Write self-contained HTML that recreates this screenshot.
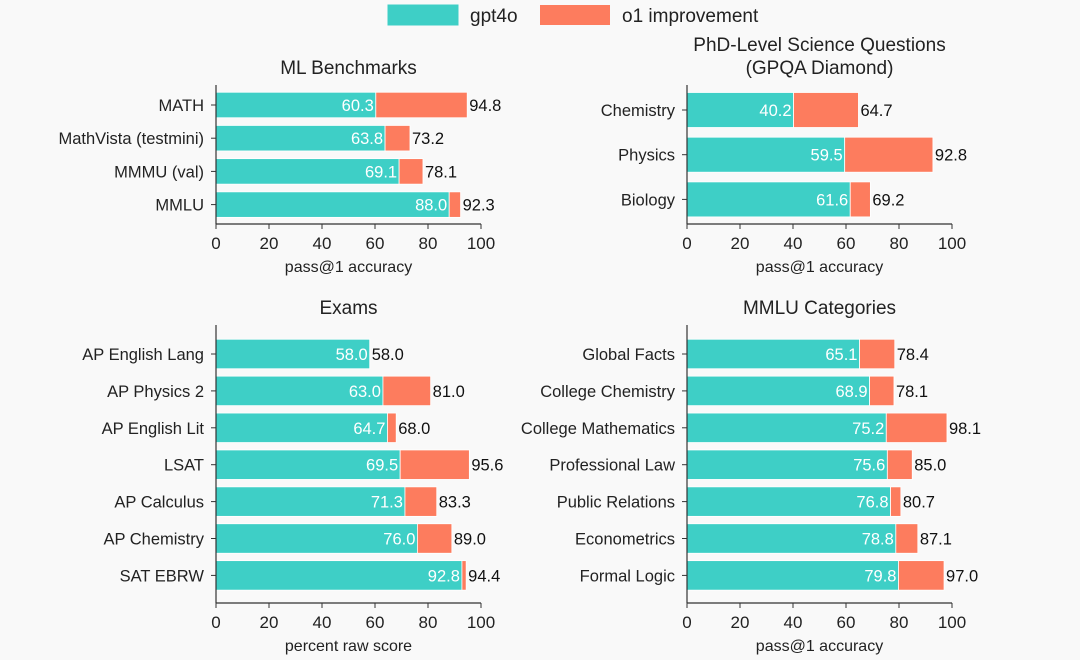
<!DOCTYPE html>
<html><head><meta charset="utf-8"><style>
html,body{margin:0;padding:0;background:#f9f9f9;}
svg{display:block;font-family:"Liberation Sans",sans-serif;}
</style></head><body>
<svg id="c" width="1080" height="660" viewBox="0 0 1080 660" xmlns="http://www.w3.org/2000/svg">
<rect width="1080" height="660" fill="#f9f9f9"/>
<g>
<rect x="388" y="5" width="70" height="20" fill="#3ecfc6" stroke="#3ecfc6"/>
<text x="470" y="22" font-size="19" fill="#222">gpt4o</text>
<rect x="540" y="5" width="70" height="20" fill="#fd7c5e"/>
<text x="622" y="22" font-size="19" fill="#222">o1 improvement</text>
</g>
</svg>
<script>
const mlCats=["MATH","MathVista (testmini)","MMMU (val)","MMLU"];
const mlBase=[60.3,63.8,69.1,88.0];
const mlO1=[94.8,73.2,78.1,92.3];
const gpCats=["Chemistry","Physics","Biology"];
const gpBase=[40.2,59.5,61.6];
const gpO1=[64.7,92.8,69.2];
const exCats=["AP English Lang","AP Physics 2","AP English Lit","LSAT","AP Calculus","AP Chemistry","SAT EBRW"];
const exBase=[58.0,63.0,64.7,69.5,71.3,76.0,92.8];
const exO1=[58.0,81.0,68.0,95.6,83.3,89.0,94.4];
const mmCats=["Global Facts","College Chemistry","College Mathematics","Professional Law","Public Relations","Econometrics","Formal Logic"];
const mmBase=[65.1,68.9,75.2,75.6,76.8,78.8,79.8];
const mmO1=[78.4,78.1,98.1,85.0,80.7,87.1,97.0];
const ticks=[0,20,40,60,80,100];

const svg=document.getElementById('c');
const NS='http://www.w3.org/2000/svg';
function mk(tag,attrs,parent){const e=document.createElementNS(NS,tag);for(const k in attrs)e.setAttribute(k,attrs[k]);(parent||svg).appendChild(e);return e;}

function panel(name,titles,titleY,cats,base,o1,x0,x1,yTop,yBot,firstC,step,bh,xlabel){
  const g=mk('g',{});
  
  
  const xs=v=>x0+(x1-x0)*v/100;
  titles.forEach((t,i)=>{const tt=mk('text',{x:(x0+x1)/2,y:titleY+i*23,'font-size':19,'text-anchor':'middle',fill:'#222'},g);tt.textContent=t;
    
    });
  cats.forEach((c,i)=>{
    const cy=firstC+i*step;
    const b=mk('rect',{x:xs(0),y:cy-bh/2,width:xs(base[i])-xs(0),height:bh,fill:'#3ecfc6',stroke:'#fff','stroke-width':0.8},g);
    
    
    const r=mk('rect',{x:xs(base[i]),y:cy-bh/2,width:Math.max(0,xs(o1[i])-xs(base[i])),height:bh,fill:'#fd7c5e',stroke:'#fff','stroke-width':0.8},g);
    
    
    const bl=mk('text',{x:xs(base[i])-2,y:cy+6,'font-size':16.5,'text-anchor':'end',fill:'#fff'},g);bl.textContent=base[i].toFixed(1);
    
    
    const ol=mk('text',{x:xs(Math.max(o1[i],base[i]))+2,y:cy+6,'font-size':16.5,fill:'#111'},g);ol.textContent=o1[i].toFixed(1);
    
    
    mk('line',{x1:x0-5,x2:x0,y1:cy,y2:cy,stroke:'#333','stroke-width':1},g);
    const cl=mk('text',{x:x0-12,y:cy+6,'font-size':16.5,'text-anchor':'end',fill:'#222'},g);cl.textContent=c;
    
    
  });
  mk('line',{x1:x0,x2:x0,y1:yTop,y2:yBot,stroke:'#333','stroke-width':1.2},g);
  mk('line',{x1:x0,x2:x1,y1:yBot,y2:yBot,stroke:'#333','stroke-width':1.2},g);
  ticks.forEach(t=>{
    mk('line',{x1:xs(t),x2:xs(t),y1:yBot,y2:yBot+5,stroke:'#333','stroke-width':1},g);
    const tl=mk('text',{x:xs(t),y:yBot+25,'font-size':17,'text-anchor':'middle',fill:'#222'},g);tl.textContent=t;
    
    
  });
  const xl=mk('text',{x:(x0+x1)/2,y:yBot+48,'font-size':16,'text-anchor':'middle',fill:'#222'},g);xl.textContent=xlabel;
  
  
}
panel('ml-benchmarks',['ML Benchmarks'],74,mlCats,mlBase,mlO1,216,481,85,224,105,33.2,25.5,'pass@1 accuracy');
panel('gpqa',['PhD-Level Science Questions','(GPQA Diamond)'],51,gpCats,gpBase,gpO1,687,952,85,224,110,44.7,35,'pass@1 accuracy');
panel('exams',['Exams'],314,exCats,exBase,exO1,216,481,325,603,354,36.9,29.5,'percent raw score');
panel('mmlu-categories',['MMLU Categories'],314,mmCats,mmBase,mmO1,687,952,325,603,354,36.9,29.5,'pass@1 accuracy');
</script>
</body></html>
